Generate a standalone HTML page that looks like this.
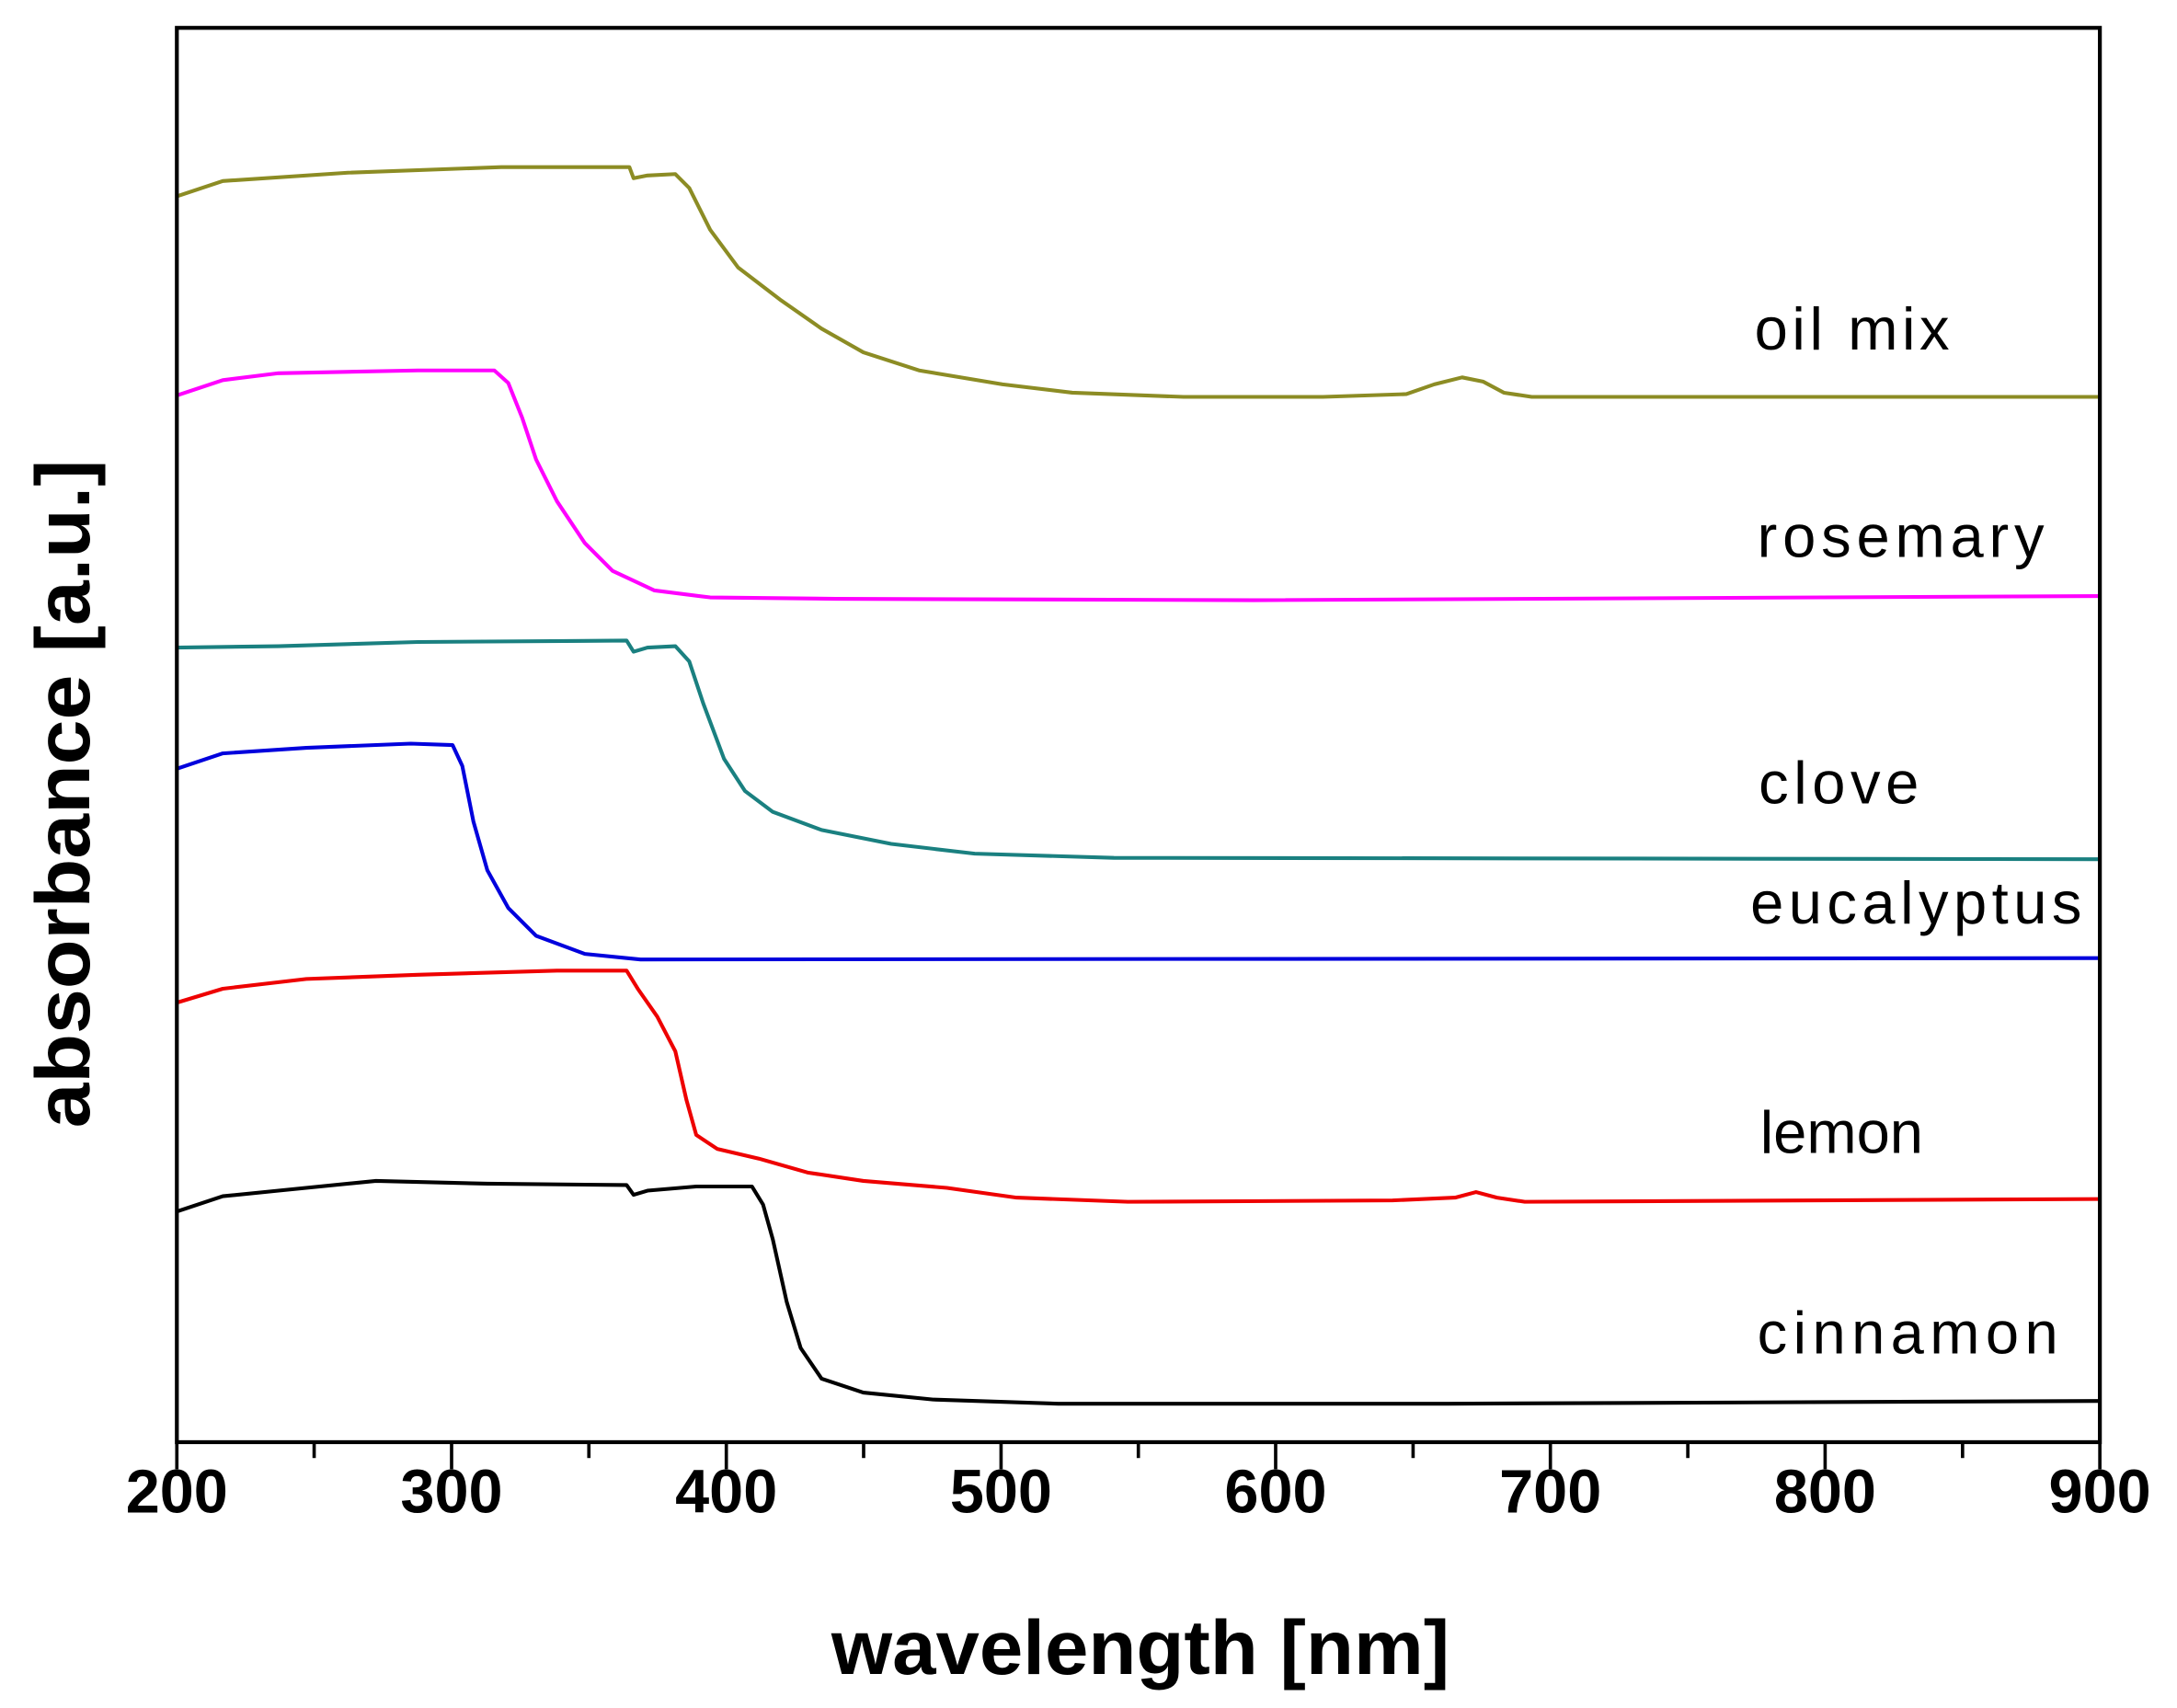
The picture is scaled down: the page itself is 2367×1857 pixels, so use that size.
<!DOCTYPE html>
<html><head><meta charset="utf-8"><style>
html,body{margin:0;padding:0;background:#fff;}
svg{display:block;}
</style></head><body>
<svg width="2367" height="1857" viewBox="0 0 1563.4 1226.5" preserveAspectRatio="none" xmlns="http://www.w3.org/2000/svg">
<rect width="1563.4" height="1226.5" fill="#fff"/>
<g fill="none" stroke-width="2.7" stroke-linejoin="round">
<polyline stroke="#8c8c24" points="127,141 160,130 250,124 360,120 452,120 455,128 465,126 485,125 495,135 510,165 530,192 560,215 590,236 620,253 660,266 720,276 770,282 850,285 950,285 1010,283 1030,276 1050,271 1065,274 1080,282 1100,285 1508,285"/>
<polyline stroke="#ff00ff" points="127,284 160,273 200,268 300,266 355,266 365,275 375,300 385,330 400,360 420,390 440,410 470,424 510,429 600,430 900,431 1508,428"/>
<polyline stroke="#1a8080" points="127,465 200,464 300,461 450,460 455,468 465,465 485,464 495,475 505,505 520,545 535,568 555,583 590,596 640,606 700,613 800,616 1508,617"/>
<polyline stroke="#0000dd" points="127,552 160,541 220,537 295,534 325,535 332,550 340,590 350,625 365,652 385,672 420,685 460,689 1508,688"/>
<polyline stroke="#ee0000" points="127,720 160,710 220,703 300,700 400,697 450,697 458,710 472,730 485,755 493,790 500,815 515,825 545,832 580,842 620,848 680,853 730,860 810,863 1000,862 1045,860 1060,856 1075,860 1095,863 1508,861"/>
<polyline stroke="#000" points="127,870 160,859 200,855 270,848 350,850 450,851 455,858 465,855 500,852 540,852 548,865 555,890 565,935 575,968 590,990 620,1000 670,1005 760,1008 1040,1008 1508,1006"/>
</g>
<rect x="127" y="20" width="1381" height="1015.6" fill="none" stroke="#000" stroke-width="2.8"/>
<g stroke="#000" stroke-width="2.4">
<line x1="127" y1="1035" x2="127" y2="1055"/><line x1="225.6" y1="1035" x2="225.6" y2="1047"/>
<line x1="324.3" y1="1035" x2="324.3" y2="1055"/><line x1="422.9" y1="1035" x2="422.9" y2="1047"/>
<line x1="521.6" y1="1035" x2="521.6" y2="1055"/><line x1="620.2" y1="1035" x2="620.2" y2="1047"/>
<line x1="718.9" y1="1035" x2="718.9" y2="1055"/><line x1="817.5" y1="1035" x2="817.5" y2="1047"/>
<line x1="916.1" y1="1035" x2="916.1" y2="1055"/><line x1="1014.8" y1="1035" x2="1014.8" y2="1047"/>
<line x1="1113.4" y1="1035" x2="1113.4" y2="1055"/><line x1="1212.1" y1="1035" x2="1212.1" y2="1047"/>
<line x1="1310.7" y1="1035" x2="1310.7" y2="1055"/><line x1="1409.4" y1="1035" x2="1409.4" y2="1047"/>
<line x1="1508" y1="1035" x2="1508" y2="1055"/>
</g>
<g font-family="Liberation Sans, Arial, sans-serif" font-weight="bold" font-size="44" text-anchor="middle" fill="#000">
<text x="127" y="1086">200</text><text x="324.3" y="1086">300</text><text x="521.6" y="1086">400</text>
<text x="718.9" y="1086">500</text><text x="916.1" y="1086">600</text><text x="1113.4" y="1086">700</text>
<text x="1310.7" y="1086">800</text><text x="1508" y="1086">900</text>
</g>
<text x="819" y="1202" font-family="Liberation Sans, Arial, sans-serif" font-weight="bold" font-size="55" text-anchor="middle" textLength="444" lengthAdjust="spacingAndGlyphs">wavelength [nm]</text>
<text transform="translate(64,570) rotate(-90)" font-family="Liberation Sans, Arial, sans-serif" font-weight="bold" font-size="55" text-anchor="middle" textLength="480" lengthAdjust="spacingAndGlyphs">absorbance [a.u.]</text>
<g font-family="Liberation Sans, Arial, sans-serif" font-size="43" fill="#000">
<text x="1260" y="251" textLength="140" lengthAdjust="spacing">oil mix</text>
<text x="1262" y="400" textLength="206" lengthAdjust="spacing">rosemary</text>
<text x="1263" y="577" textLength="115" lengthAdjust="spacing">clove</text>
<text x="1257" y="663" textLength="238" lengthAdjust="spacing">eucalyptus</text>
<text x="1264" y="828">lemon</text>
<text x="1262" y="972" textLength="216" lengthAdjust="spacing">cinnamon</text>
</g>
</svg>
</body></html>
